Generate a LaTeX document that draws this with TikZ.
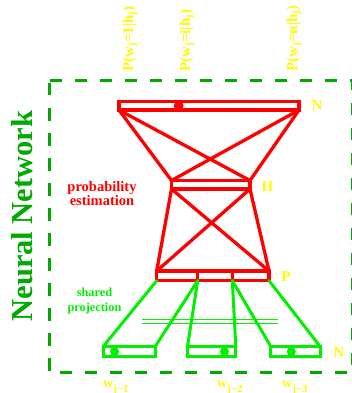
\documentclass[tikz,border=0pt]{standalone}
\usepackage{fontspec}
\setmainfont{Liberation Serif}
\definecolor{rd}{RGB}{255,0,0}
\definecolor{gr}{RGB}{0,240,0}
\definecolor{dkg}{RGB}{0,170,0}
\definecolor{yl}{RGB}{255,250,0}
\begin{document}
\begin{tikzpicture}[x=1pt,y=-1pt,
  redline/.style={draw=rd,line width=3.3pt,line cap=round},
  greenline/.style={draw=gr,line width=3pt,line cap=round},
  layerbox/.style={line cap=butt},
  lbl/.style={text=yl,inner sep=0pt,font=\bfseries\fontsize{15}{15}\selectfont},
  toplbl/.style={text=yl,inner sep=0pt,rotate=90,anchor=base west,font=\bfseries\fontsize{15}{15}\selectfont},
  wlbl/.style={text=yl,inner sep=0pt,anchor=base west,font=\bfseries\fontsize{14}{14}\selectfont},
  dot/.style={circle,inner sep=0pt,minimum size=10pt}]
\useasboundingbox (0,0) rectangle (352,393);

% dashed frame
\draw[dkg,line width=3pt,dash pattern=on 12.5pt off 12.5pt,dash phase=-2.5pt] (49.3,80.5) rectangle (352.6,372.5);

% top layer N
\coordinate (Ntl) at (119,101.7); \coordinate (Ntr) at (299,101.7);
\coordinate (Nbl) at (119,110);   \coordinate (Nbr) at (299,110);
% hidden layer H
\coordinate (Htl) at (171.5,180.5); \coordinate (Htr) at (250,180.5);
\coordinate (Hbl) at (171.5,189);   \coordinate (Hbr) at (250,189);
% projection layer P
\coordinate (Ptl) at (156.7,271); \coordinate (Ptr) at (269,271);
\coordinate (Pbl) at (156.7,280.7); \coordinate (Pbr) at (269,280.7);
\coordinate (D1t) at (197.7,271); \coordinate (D1b) at (197.7,280.7);
\coordinate (D2t) at (232.3,271); \coordinate (D2b) at (232.3,280.7);
% input boxes
\coordinate (A1) at (103.2,346.5); \coordinate (B1) at (155.2,356.8); \coordinate (C1) at (155.2,346.5);
\coordinate (A2) at (187.5,346.5); \coordinate (B2) at (235.8,356.8); \coordinate (C2) at (235.8,346.5);
\coordinate (A3) at (270.8,346.5); \coordinate (B3) at (320.2,356.8); \coordinate (C3) at (320.2,346.5);

% red network
\draw[redline] (Nbl) -- (Htl);
\draw[redline] (Nbr) -- (Htr);
\draw[redline] (Nbl) -- (Htr);
\draw[redline] (Nbr) -- (Htl);
\draw[redline] (Hbl) -- (Ptl);
\draw[redline] (Hbr) -- (Ptr);
\draw[redline] (Hbl) -- (Ptr);
\draw[redline] (Hbr) -- (Ptl);
\draw[redline,layerbox] (Ntl) rectangle (Nbr);
\draw[redline,layerbox] (Htl) rectangle (Hbr);
\draw[redline,layerbox] (Ptl) rectangle (Pbr);
\draw[redline,layerbox] (D1t) -- (D1b);
\draw[redline,layerbox] (D2t) -- (D2b);
\node[dot,fill=rd] (ndot) at (178.7,106) {};

% green projections
\draw[greenline] (Pbl) -- (A1);
\draw[greenline] (D1b) -- (C1);
\draw[greenline] (D1b) -- (A2);
\draw[greenline] (D2b) -- (C2);
\draw[greenline] (D2b) -- (A3);
\draw[greenline] (Pbr) -- (C3);
\draw[greenline,layerbox] (A1) rectangle (B1);
\draw[greenline,layerbox] (A2) rectangle (B2);
\draw[greenline,layerbox] (A3) rectangle (B3);
\node[dot,fill=gr,minimum size=9pt] (g1) at (114.5,351.6) {};
\node[dot,fill=gr,minimum size=9pt] (g2) at (224.5,351.6) {};
\node[dot,fill=gr,minimum size=9pt] (g3) at (291.3,351.6) {};
\draw[gr,line width=0.9pt] (142,319) -- (278,319);
\draw[gr,line width=0.9pt] (142,323) -- (278,323);

% labels
\node[lbl] (lN) at (317,105.5) {N};
\node[lbl] (lH) at (267.5,186.5) {H};
\node[lbl] (lP) at (286,277) {P};
\node[lbl] (lN2) at (339,353) {N};

\node[toplbl] (p1) at (133,72) {P(w\textsubscript{j}=1|h\textsubscript{j})};
\node[toplbl] (p2) at (190,72) {P(w\textsubscript{j}=i|h\textsubscript{j})};
\node[toplbl] (p3) at (297,72) {P(w\textsubscript{j}=n|h\textsubscript{j})};

\node[wlbl] (w1) at (103,387) {w\raisebox{-5pt}{\fontsize{11}{11}\selectfont j−1}};
\node[wlbl] (w2) at (217,387) {w\raisebox{-5pt}{\fontsize{11}{11}\selectfont j−2}};
\node[wlbl] (w3) at (282,387) {w\raisebox{-5pt}{\fontsize{11}{11}\selectfont j−3}};

\node[text=rd,inner sep=0pt,align=center,font=\bfseries\fontsize{14.5}{12.7}\selectfont] (pe) at (102,193.7) {probability\\estimation};
\node[text=gr,inner sep=0pt,align=center,font=\bfseries\fontsize{12.3}{14.3}\selectfont] (sp) at (94.5,301) {shared\\projection};

\node[text=dkg,inner sep=0pt,rotate=90,anchor=base,font=\bfseries\fontsize{30.5}{30.5}\selectfont] (nn) at (32,216) {Neural Network};
\end{tikzpicture}
\end{document}
